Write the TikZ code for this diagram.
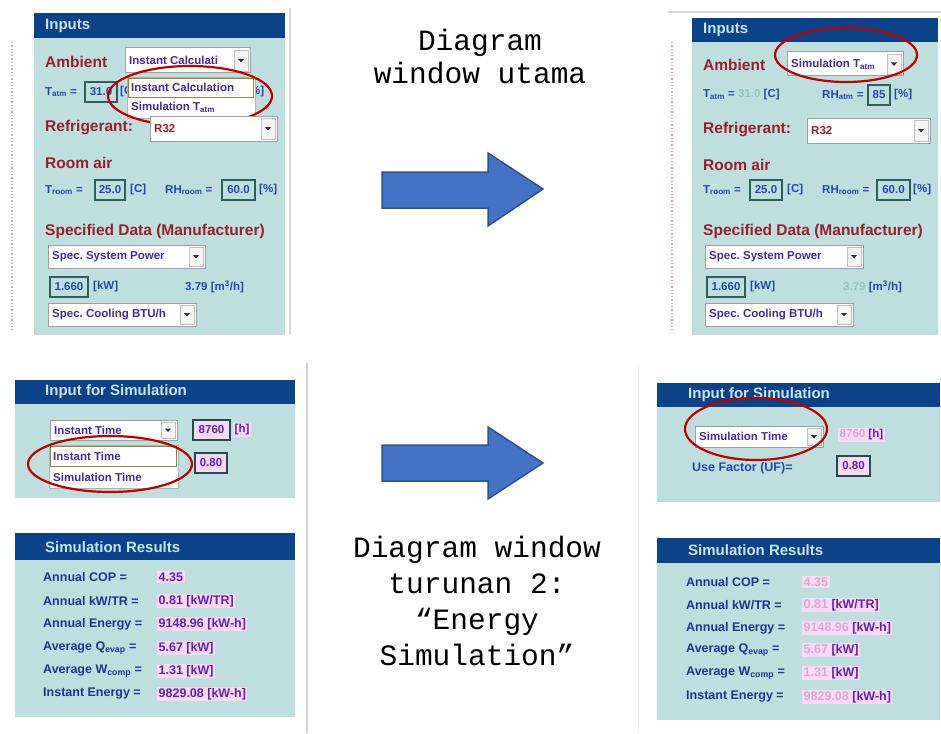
\documentclass[tikz,border=0pt]{standalone}
\usepackage{fontspec}
\setmainfont{Liberation Sans}
\newfontfamily\monofam{Liberation Mono}
\frenchspacing
\definecolor{panelbg}{RGB}{190,223,221}
\definecolor{hdrblue}{RGB}{12,66,136}
\definecolor{hdrtext}{RGB}{196,228,242}
\definecolor{lblred}{RGB}{150,32,44}
\definecolor{lblblue}{RGB}{40,72,165}
\definecolor{ddpurple}{RGB}{70,45,150}
\definecolor{boxgreen}{RGB}{45,95,95}
\definecolor{resblue}{RGB}{32,52,140}
\definecolor{valpink}{RGB}{248,218,248}
\definecolor{valpurple}{RGB}{95,35,175}
\definecolor{fadedpink}{RGB}{214,172,200}
\definecolor{fadedteal}{RGB}{150,196,196}
\definecolor{ringred}{RGB}{192,0,0}
\definecolor{arrowfill}{RGB}{68,114,196}
\definecolor{arrowline}{RGB}{47,82,143}
\definecolor{dotpink}{RGB}{215,165,165}
\newcommand{\mkdrop}[6]{%
  \draw[ddframe] (#2,#3) rectangle (#4,#5);
  \draw[ddbtn] ({#4-16},{#3+2}) rectangle ({#4-2},{#5-2});
  \fill[black!80] ({#4-12},{(#3+#5)/2-1.5}) -- ({#4-6},{(#3+#5)/2-1.5}) -- ({#4-9},{(#3+#5)/2+2}) -- cycle;
  \node[ddtxt] (#1) at ({#2+4},{(#3+#5)/2}) {#6};
}
\begin{document}
\begin{tikzpicture}[x=1pt,y=-1pt,
  panel/.style={fill=panelbg,draw=none},
  hdr/.style={fill=hdrblue,draw=none},
  hdrtxt/.style={anchor=west,inner sep=0pt,text=hdrtext,font=\bfseries\fontsize{15}{15}\selectfont},
  redlbl/.style={anchor=west,inner sep=0pt,text=lblred,font=\bfseries\fontsize{15.5}{16}\selectfont},
  bluelbl/.style={anchor=west,inner sep=0pt,text=lblblue,font=\bfseries\fontsize{11.5}{12}\selectfont},
  ddtxt/.style={anchor=west,inner sep=0pt,text=ddpurple,font=\bfseries\fontsize{11.5}{12}\selectfont},
  ddframe/.style={draw=gray!75,fill=white,line width=1pt},
  ddbtn/.style={draw=gray!50,fill=gray!8,line width=0.6pt},
  numbox/.style={draw=boxgreen,line width=1.2pt,fill=panelbg,text=lblblue,inner sep=1pt,minimum height=20pt,font=\bfseries\fontsize{11.5}{12}\selectfont},
  pinkbox/.style={draw=boxgreen!80!black,line width=1.2pt,fill=valpink,text=valpurple,inner sep=1pt,minimum height=20pt,font=\bfseries\fontsize{11.5}{12}\selectfont},
  listbox/.style={draw=gray!60,fill=white,line width=0.8pt},
  listsel/.style={draw=olive!60!gray,line width=0.8pt},
  reslbl/.style={anchor=west,inner sep=0pt,text=resblue,font=\bfseries\fontsize{12.5}{13}\selectfont},
  resval/.style={anchor=west,inner sep=1.5pt,fill=valpink,text=valpurple,font=\bfseries\fontsize{12.5}{13}\selectfont},
  redring/.style={draw=ringred,line width=2.2pt},
  bigarrow/.style={fill=arrowfill,draw=arrowline,line width=1.5pt,line join=miter},
  caption/.style={align=center,text=black,inner sep=0pt},
  frameline/.style={draw=gray!30,line width=1.2pt},
  dotline/.style={draw=dotpink,line width=1.3pt,dotted}]
\useasboundingbox (0,0) rectangle (941,733);
\fill[white] (0,0) rectangle (941,733);

% ================= TOP LEFT =================
\draw[frameline] (290,8) -- (290,335);
\draw[dotline] (12,42) -- (12,332);
\fill[panel] (34,13) rectangle (285,335);
\fill[hdr] (34,13) rectangle (285,38);
\node[hdrtxt] (tlInputs) at (45,25.5) {Inputs};
\node[redlbl] (tlAmb) at (45,62) {Ambient};
\mkdrop{tlAmbDD}{125}{48}{250}{73}{Instant Calculati}
\node[bluelbl] (tlTatm) at (45,92) {T\textsubscript{atm} =};
\node[numbox,minimum width=32pt] (tlTatmV) at (101,92) {31.0};
\begin{scope}
  \clip (118,80) rectangle (126.5,105);
  \node[bluelbl] (tlTatmU) at (120,92) {[C]};
\end{scope}
\node[bluelbl] (tlRHU) at (246,92) {[\%]};
% dropdown list
\draw[listbox] (127,77) rectangle (255,118);
\draw[listsel] (128.5,78.5) rectangle (253.5,97);
\node[ddtxt] (tlOpt1) at (131,87.5) {Instant Calculation};
\node[ddtxt] (tlOpt2) at (131,107) {Simulation T\textsubscript{atm}};
\draw[redring] (190,96) ellipse [x radius=82pt, y radius=30pt];
\node[redlbl] (tlRef) at (45,128) {Refrigerant:};
\mkdrop{tlRefDD}{150}{116}{277}{141}{\textcolor{lblred}{R32}}
\node[redlbl] (tlRoom) at (45,163) {Room air};
\node[bluelbl] (tlTroom) at (45,190) {T\textsubscript{room} =};
\node[numbox,minimum width=30pt] (tlTroomV) at (110,190) {25.0};
\node[bluelbl] (tlTroomU) at (130,190) {[C]};
\node[bluelbl] (tlRHroom) at (165,190) {RH\textsubscript{room} =};
\node[numbox,minimum width=33pt] (tlRHroomV) at (238.5,190) {60.0};
\node[bluelbl] (tlRHroomU) at (259,190) {[\%]};
\node[redlbl] (tlSpec) at (45,231) {Specified Data (Manufacturer)};
\mkdrop{tlSysDD}{48}{245}{205}{268}{Spec. System Power}
\node[numbox,minimum width=38pt] (tlPow) at (69,287) {1.660};
\node[bluelbl] (tlPowU) at (93,287) {[kW]};
\node[bluelbl] (tlFlow) at (185,287) {3.79 [m\textsuperscript{3}/h]};
\mkdrop{tlCoolDD}{48}{303}{196}{326}{Spec. Cooling BTU/h}

% ================= TOP RIGHT =================
\draw[frameline] (668,12) -- (941,12);
\draw[dotline] (672,42) -- (672,332);
\fill[panel] (692,18) rectangle (938,335);
\fill[hdr] (692,18) rectangle (938,42);
\node[hdrtxt] (trInputs) at (703,30) {Inputs};
\node[redlbl] (trAmb) at (703,65) {Ambient};
\mkdrop{trAmbDD}{787}{52}{903}{76}{Simulation T\textsubscript{atm}}
\draw[redring] (846,55) ellipse [x radius=71pt, y radius=27pt];
\node[bluelbl] (trTatm) at (703,95) {T\textsubscript{atm} = \textcolor{fadedteal}{31.0} [C]};
\node[bluelbl] (trRH) at (822,95) {RH\textsubscript{atm} =};
\node[numbox,minimum width=22pt] (trRHV) at (879,95) {85};
\node[bluelbl] (trRHU) at (894,95) {[\%]};
\node[redlbl] (trRef) at (703,130) {Refrigerant:};
\mkdrop{trRefDD}{807}{118}{930}{143}{\textcolor{lblred}{R32}}
\node[redlbl] (trRoom) at (703,165) {Room air};
\node[bluelbl] (trTroom) at (703,190) {T\textsubscript{room} =};
\node[numbox,minimum width=32pt] (trTroomV) at (766,190) {25.0};
\node[bluelbl] (trTroomU) at (787,190) {[C]};
\node[bluelbl] (trRHroom) at (822,190) {RH\textsubscript{room} =};
\node[numbox,minimum width=33pt] (trRHroomV) at (893.5,190) {60.0};
\node[bluelbl] (trRHroomU) at (913,190) {[\%]};
\node[redlbl] (trSpec) at (703,231) {Specified Data (Manufacturer)};
\mkdrop{trSysDD}{705}{245}{863}{268}{Spec. System Power}
\node[numbox,minimum width=38pt] (trPow) at (726,287) {1.660};
\node[bluelbl] (trPowU) at (750,287) {[kW]};
\node[bluelbl] (trFlow) at (843,287) {\textcolor{fadedteal}{3.79} [m\textsuperscript{3}/h]};
\mkdrop{trCoolDD}{705}{303}{853}{326}{Spec. Cooling BTU/h}

% ================= CAPTIONS AND ARROWS =================
\node[caption,font=\monofam\fontsize{29.5}{33}\selectfont] (capTop) at (480,56) {Diagram\\window utama};
\draw[bigarrow] (382,172) -- (488,172) -- (488,153) -- (543,189) -- (488,226) -- (488,208) -- (382,208) -- cycle;
\draw[bigarrow] (382,445) -- (488,445) -- (488,427) -- (543,463) -- (488,499) -- (488,481) -- (382,481) -- cycle;
\node[caption,font=\monofam\fontsize{29.5}{36}\selectfont] (capBot) at (477,601) {Diagram window\\turunan 2:\\“Energy\\Simulation”};

% ================= BOTTOM LEFT =================
\draw[draw=gray!35,line width=1.5pt] (307,363) -- (307,733);
\fill[hdr] (15,380) rectangle (295,404);
\fill[panel] (15,404) rectangle (295,498);
\node[hdrtxt] (blHdr) at (45,392) {Input for Simulation};
\mkdrop{blTimeDD}{50}{420}{177}{440}{Instant Time}
\node[pinkbox,minimum width=37pt] (blHours) at (211.5,430) {8760};
\node[resval,font=\bfseries\fontsize{11.5}{12}\selectfont] (blHoursU) at (233,430) {[h]};
\draw[listbox] (49,445) rectangle (178,488);
\draw[listsel] (50.5,446.5) rectangle (176.5,466);
\node[ddtxt] (blOpt1) at (53,456) {Instant Time};
\node[ddtxt] (blOpt2) at (53,477) {Simulation Time};
\node[pinkbox,minimum width=32pt] (blUF) at (211,463) {0.80};
\draw[redring] (110,464) ellipse [x radius=82pt, y radius=28pt];

\fill[hdr] (15,533) rectangle (295,560);
\fill[panel] (15,560) rectangle (295,717);
\node[hdrtxt] (blResHdr) at (45,547) {Simulation Results};
\node[reslbl] (blL1) at (43,577) {Annual COP =};
\node[reslbl] (blL2) at (43,601) {Annual kW/TR =};
\node[reslbl] (blL3) at (43,624) {Annual Energy =};
\node[reslbl] (blL4) at (43,648) {Average Q\textsubscript{evap} =};
\node[reslbl] (blL5) at (43,671) {Average W\textsubscript{comp} =};
\node[reslbl] (blL6) at (43,694) {Instant Energy =};
\node[resval] (blV1) at (157,577) {4.35};
\node[resval] (blV2) at (157,601) {0.81 [kW/TR]};
\node[resval] (blV3) at (157,624) {9148.96 [kW-h]};
\node[resval] (blV4) at (157,648) {5.67 [kW]};
\node[resval] (blV5) at (157,671) {1.31 [kW]};
\node[resval] (blV6) at (157,694) {9829.08 [kW-h]};

% ================= BOTTOM RIGHT =================
\draw[draw=gray!15,line width=1pt] (638,365) -- (638,733);
\fill[hdr] (657,383) rectangle (940,407);
\fill[panel] (657,407) rectangle (940,502);
\node[hdrtxt] (brHdr) at (688,395) {Input for Simulation};
\mkdrop{brTimeDD}{695}{426}{823}{447}{Simulation Time}
\draw[redring] (756,429) ellipse [x radius=71pt, y radius=31pt];
\node[resval,font=\bfseries\fontsize{11.5}{12}\selectfont] (brHours) at (838,435) {\textcolor{fadedpink}{8760} [h]};
\node[reslbl,text=lblblue] (brUFl) at (692,468) {Use Factor (UF)=};
\node[pinkbox,minimum width=33pt] (brUF) at (853.5,466) {0.80};

\fill[hdr] (657,538) rectangle (940,563);
\fill[panel] (657,563) rectangle (940,720);
\node[hdrtxt] (brResHdr) at (688,550) {Simulation Results};
\node[reslbl] (brL1) at (686,582) {Annual COP =};
\node[reslbl] (brL2) at (686,605) {Annual kW/TR =};
\node[reslbl] (brL3) at (686,628) {Annual Energy =};
\node[reslbl] (brL4) at (686,650) {Average Q\textsubscript{evap} =};
\node[reslbl] (brL5) at (686,673) {Average W\textsubscript{comp} =};
\node[reslbl] (brL6) at (686,697) {Instant Energy =};
\node[resval] (brV1) at (802,582) {\textcolor{fadedpink}{4.35}};
\node[resval] (brV2) at (802,605) {\textcolor{fadedpink}{0.81} [kW/TR]};
\node[resval] (brV3) at (802,628) {\textcolor{fadedpink}{9148.96} [kW-h]};
\node[resval] (brV4) at (802,650) {\textcolor{fadedpink}{5.67} [kW]};
\node[resval] (brV5) at (802,673) {\textcolor{fadedpink}{1.31} [kW]};
\node[resval] (brV6) at (802,697) {\textcolor{fadedpink}{9829.08} [kW-h]};
\end{tikzpicture}
\end{document}
